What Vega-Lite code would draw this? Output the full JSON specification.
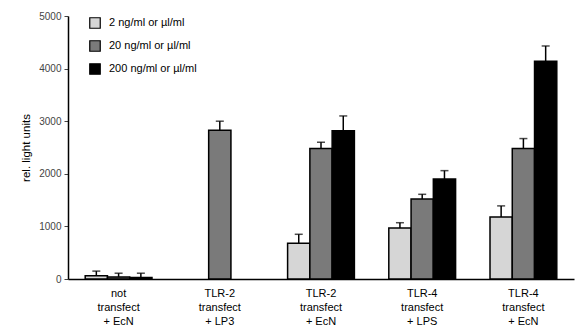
{
  "$schema": "https://vega.github.io/schema/vega-lite/v6.json",
  "autosize": "none",
  "width": 506,
  "height": 263,
  "padding": {"left": 68, "top": 16, "right": 5, "bottom": 52},
  "background": "white",
  "config": {"view": {"stroke": null}, "font": "Liberation Sans"},
  "data": {
    "values": [
      {"group": "not|transfect|+ EcN", "dose": "2 ng/ml or µl/ml", "ord": 1, "value": 60, "err": 150},
      {"group": "not|transfect|+ EcN", "dose": "20 ng/ml or µl/ml", "ord": 2, "value": 40, "err": 110},
      {"group": "not|transfect|+ EcN", "dose": "200 ng/ml or µl/ml", "ord": 3, "value": 30, "err": 110},
      {"group": "TLR-2|transfect|+ LP3", "dose": "20 ng/ml or µl/ml", "ord": 2, "value": 2830, "err": 3000},
      {"group": "TLR-2|transfect|+ EcN", "dose": "2 ng/ml or µl/ml", "ord": 1, "value": 680, "err": 850},
      {"group": "TLR-2|transfect|+ EcN", "dose": "20 ng/ml or µl/ml", "ord": 2, "value": 2480, "err": 2600},
      {"group": "TLR-2|transfect|+ EcN", "dose": "200 ng/ml or µl/ml", "ord": 3, "value": 2820, "err": 3100},
      {"group": "TLR-4|transfect|+ LPS", "dose": "2 ng/ml or µl/ml", "ord": 1, "value": 970, "err": 1070},
      {"group": "TLR-4|transfect|+ LPS", "dose": "20 ng/ml or µl/ml", "ord": 2, "value": 1520, "err": 1610},
      {"group": "TLR-4|transfect|+ LPS", "dose": "200 ng/ml or µl/ml", "ord": 3, "value": 1900, "err": 2060},
      {"group": "TLR-4|transfect|+ EcN", "dose": "2 ng/ml or µl/ml", "ord": 1, "value": 1180, "err": 1390},
      {"group": "TLR-4|transfect|+ EcN", "dose": "20 ng/ml or µl/ml", "ord": 2, "value": 2480, "err": 2670},
      {"group": "TLR-4|transfect|+ EcN", "dose": "200 ng/ml or µl/ml", "ord": 3, "value": 4140, "err": 4430}
    ]
  },
  "encoding": {
    "x": {
      "field": "group", "type": "nominal", "sort": null,
      "scale": {"paddingInner": 0.34, "paddingOuter": 0.17},
      "axis": {
        "title": null, "labelAngle": 0, "ticks": false, "domainColor": "black", "domainWidth": 1.5,
        "labelExpr": "split(datum.label, '|')", "labelFontSize": 11, "labelColor": "black",
        "labelLineHeight": 14, "labelPadding": 8
      }
    },
    "xOffset": {"field": "dose", "type": "nominal", "sort": ["2 ng/ml or µl/ml", "20 ng/ml or µl/ml", "200 ng/ml or µl/ml"], "scale": {"domain": ["2 ng/ml or µl/ml", "20 ng/ml or µl/ml", "200 ng/ml or µl/ml"], "paddingInner": 0, "paddingOuter": 0}}
  },
  "layer": [
    {
      "mark": {"type": "rule", "color": "black", "strokeWidth": 1.5},
      "encoding": {"y": {"field": "value", "type": "quantitative"}, "y2": {"field": "err"}}
    },
    {
      "mark": {"type": "tick", "color": "black", "thickness": 1.5, "size": 8},
      "encoding": {"y": {"field": "err", "type": "quantitative"}}
    },
    {
      "mark": {"type": "bar", "stroke": "black", "strokeWidth": 1.5},
      "encoding": {
        "y": {
          "field": "value", "type": "quantitative",
          "scale": {"domain": [0, 5000], "nice": false},
          "axis": {
            "values": [0, 1000, 2000, 3000, 4000, 5000], "format": "d", "grid": false, "title": "rel. light units",
            "titleFontSize": 11.5, "titleFontWeight": "normal", "titleColor": "black", "titlePadding": 7,
            "labelFontSize": 10, "labelColor": "#444", "labelPadding": 3, "tickSize": 4, "tickColor": "#444",
            "domainColor": "black", "domainWidth": 1.5
          }
        },
        "color": {
          "field": "dose", "type": "nominal",
          "scale": {"domain": ["2 ng/ml or µl/ml", "20 ng/ml or µl/ml", "200 ng/ml or µl/ml"], "range": ["#d6d6d6", "#7a7a7a", "#000000"]},
          "legend": {
            "title": null, "orient": "none", "legendX": 21, "legendY": 1,
            "symbolType": "square", "symbolSize": 110, "symbolStrokeColor": "black", "symbolStrokeWidth": 1.2,
            "labelFontSize": 11, "labelColor": "black", "rowPadding": 7, "labelOffset": 8
          }
        }
      }
    }
  ]
}
